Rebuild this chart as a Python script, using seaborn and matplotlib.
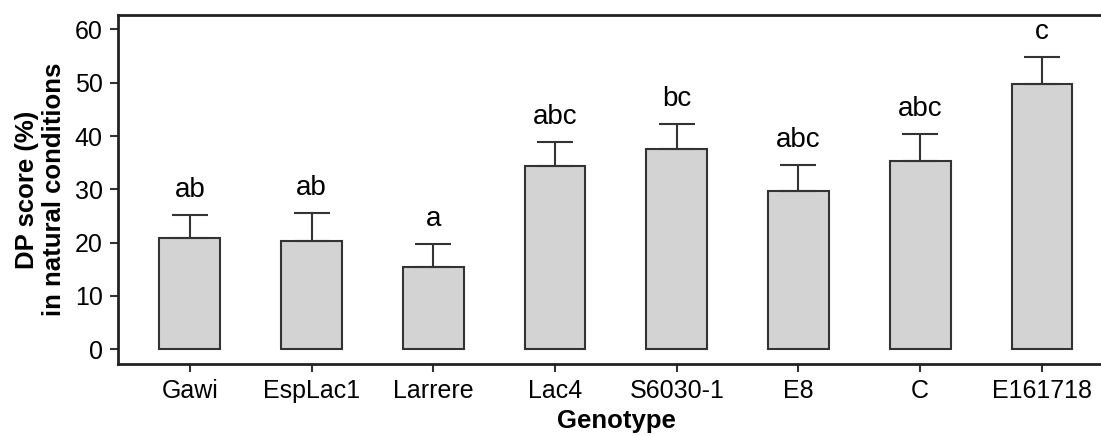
import numpy as np
import pandas as pd
import matplotlib
matplotlib.use("Agg")
import matplotlib.pyplot as plt
import seaborn as sns

# values
genotypes = ["Gawi", "EspLac1", "Larrere", "Lac4", "S6030-1", "E8", "C", "E161718"]
dp_score = [20.8, 20.4, 15.4, 34.4, 37.5, 29.6, 35.4, 49.8]
dp_se = [4.4, 5.2, 4.3, 4.5, 4.7, 5.0, 5.0, 5.0]
letters = ["ab", "ab", "a", "abc", "bc", "abc", "abc", "c"]

df = pd.DataFrame({"genotype": genotypes, "score": dp_score, "se": dp_se})

sns.set_style("ticks")
plt.rcParams["font.family"] = ["Liberation Sans", "DejaVu Sans"]

fig = plt.figure(figsize=(11.01, 4.36), dpi=100)
# axes run past the right edge like in the reference
ax = fig.add_axes([118 / 1101, (436 - 364) / 436, 997 / 1101, (364 - 15) / 436])

sns.barplot(data=df, x="genotype", y="score", color="#d3d3d3", width=0.5,
            edgecolor="#333333", linewidth=1.5, saturation=1, errorbar=None, ax=ax)

xs = np.arange(len(genotypes))
ax.errorbar(xs, df["score"], yerr=[np.zeros(len(xs)), df["se"]], fmt="none",
            ecolor="#333333", elinewidth=1.5, capsize=13, capthick=1.5, zorder=3)

for x, top, lab in zip(xs, df["score"] + df["se"], letters):
    ax.text(x, top + 3.4, lab, ha="center", va="baseline", fontsize=20, color="black")

ax.set_xlim(-0.59, 7.6)
ax.set_ylim(-2.76, 62.7)
ax.set_yticks(range(0, 61, 10))

ax.set_xlabel("Genotype", fontsize=18.5, fontweight="bold", labelpad=4, color="black")
ax.set_ylabel("DP score (%)\nin natural conditions", fontsize=18.5, color="black",
              fontweight="bold", labelpad=6, linespacing=1.2)

ax.tick_params(axis="both", labelsize=18, length=6, width=1.5, color="#333333",
               labelcolor="black", pad=5)

for side in ["left", "bottom", "top"]:
    ax.spines[side].set_linewidth(2)
    ax.spines[side].set_color("#222222")
ax.spines["right"].set_visible(False)

fig.savefig("out.png", dpi=100)
plt.close(fig)
